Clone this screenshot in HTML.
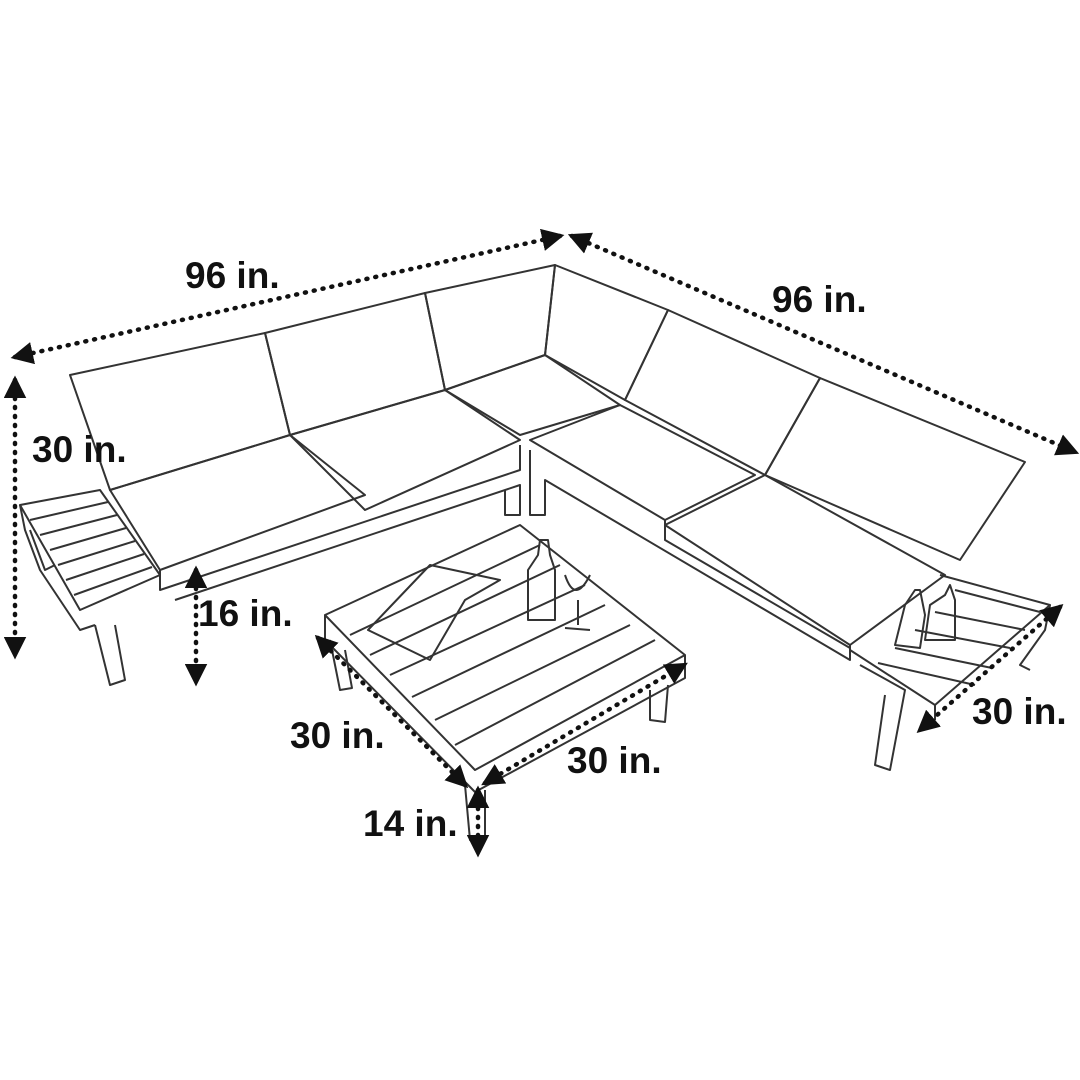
<!DOCTYPE html>
<html><head><meta charset="utf-8"><style>
html,body{margin:0;padding:0;background:#fff;}
svg{display:block}
text{font-family:"Liberation Sans",sans-serif;font-weight:bold;font-size:37px;fill:#111}
</style></head><body>
<svg width="1080" height="1080" viewBox="0 0 1080 1080" xmlns="http://www.w3.org/2000/svg">
<defs>
<marker id="a" viewBox="0 0 10 10" refX="8" refY="5" markerWidth="5" markerHeight="5" orient="auto-start-reverse"><path d="M0,0L10,5L0,10z" fill="#111"/></marker>
</defs>
<g fill="none" stroke="#333" stroke-width="2" stroke-linejoin="round">
<!-- backs -->
<path d="M70,375L265,333L290,435L110,490Z"/>
<path d="M265,333L425,293L445,390L290,435Z"/>
<path d="M425,293L555,265L545,355L445,390Z"/>
<path d="M555,265L668,310L625,400L545,355Z"/>
<path d="M668,310L820,378L765,475L625,400Z"/>
<path d="M820,378L1025,462L960,560L765,475Z"/>
<!-- seats -->
<path d="M110,490L290,435L365,495L160,570Z"/>
<path d="M290,435L445,390L520,440L365,510Z"/>
<path d="M445,390L545,355L620,405L520,435Z"/>
<path d="M530,440L620,405L755,475L665,520Z"/>
<path d="M665,525L765,475L945,575L850,645Z"/>
<!-- frames -->
<path d="M160,570L160,590L520,470L520,445"/>
<path d="M175,600L520,485L520,515L505,515L505,490"/>
<path d="M530,450L530,515L545,515L545,480L850,660L850,645"/>
<path d="M665,520L665,540L850,648"/>
<path d="M860,665L905,690L890,770L875,765L885,695"/>
<!-- left side table -->
<path d="M20,505L100,490L160,575L80,610Z"/>
<path d="M30,520L108,502M40,535L117,515M50,550L126,528M58,565L135,541M66,580L144,554M74,595L152,567"/>
<path d="M20,505L25,530L40,570L80,630L95,625"/>
<path d="M95,625L110,685L125,680L115,625"/>
<path d="M30,530L45,570L55,565"/>
<!-- right side table -->
<path d="M940,575L1050,605L935,705L850,650"/>
<path d="M955,590L1040,612M935,612L1025,630M915,630L1010,648M895,648L992,668M878,663L975,685"/>
<path d="M1050,605L1045,630L1020,665L1030,670"/>
<path d="M935,705L935,720"/>
<!-- coffee table -->
<path d="M325,615L520,525L685,655L475,770Z"/>
<path d="M325,615L325,640L475,792L685,678L685,655"/>
<path d="M350,635L540,545M370,655L560,565M390,675L585,585M412,697L605,605M435,720L630,625M455,745L655,640"/>
<path d="M330,640L340,690L352,688L345,650"/>
<path d="M650,690L650,720L665,722L668,685"/>
<path d="M465,785L470,840L485,840L485,790"/>
<!-- magazine, bottles -->
<path d="M368,630L430,565L500,580L465,600L430,660Z"/>
<path d="M528,620L528,570L538,555L540,540L548,540L550,555L555,570L555,620Z"/>
<path d="M565,575Q575,605 590,575M578,600L578,625M565,628L590,630"/>
<path d="M895,645L905,605L915,590L920,590L925,615L920,648Z"/>
<path d="M925,640L930,605L945,595L950,585L955,600L955,640Z"/>
</g>
<g fill="none" stroke="#111" stroke-width="4.5" stroke-dasharray="1 8" stroke-linecap="round" marker-start="url(#a)" marker-end="url(#a)">
<line x1="15" y1="357" x2="560" y2="236"/>
<line x1="572" y1="236" x2="1075" y2="452"/>
<line x1="15" y1="380" x2="15" y2="655"/>
<line x1="196" y1="570" x2="196" y2="682"/>
<line x1="318" y1="638" x2="465" y2="785"/>
<line x1="485" y1="783" x2="684" y2="665"/>
<line x1="478" y1="790" x2="478" y2="853"/>
<line x1="1060" y1="607" x2="920" y2="730"/>
</g>
<text x="185" y="288">96 in.</text>
<text x="772" y="312">96 in.</text>
<text x="32" y="462">30 in.</text>
<text x="198" y="626">16 in.</text>
<text x="290" y="748">30 in.</text>
<text x="567" y="773">30 in.</text>
<text x="363" y="836">14 in.</text>
<text x="972" y="724">30 in.</text>
</svg>
</body></html>
